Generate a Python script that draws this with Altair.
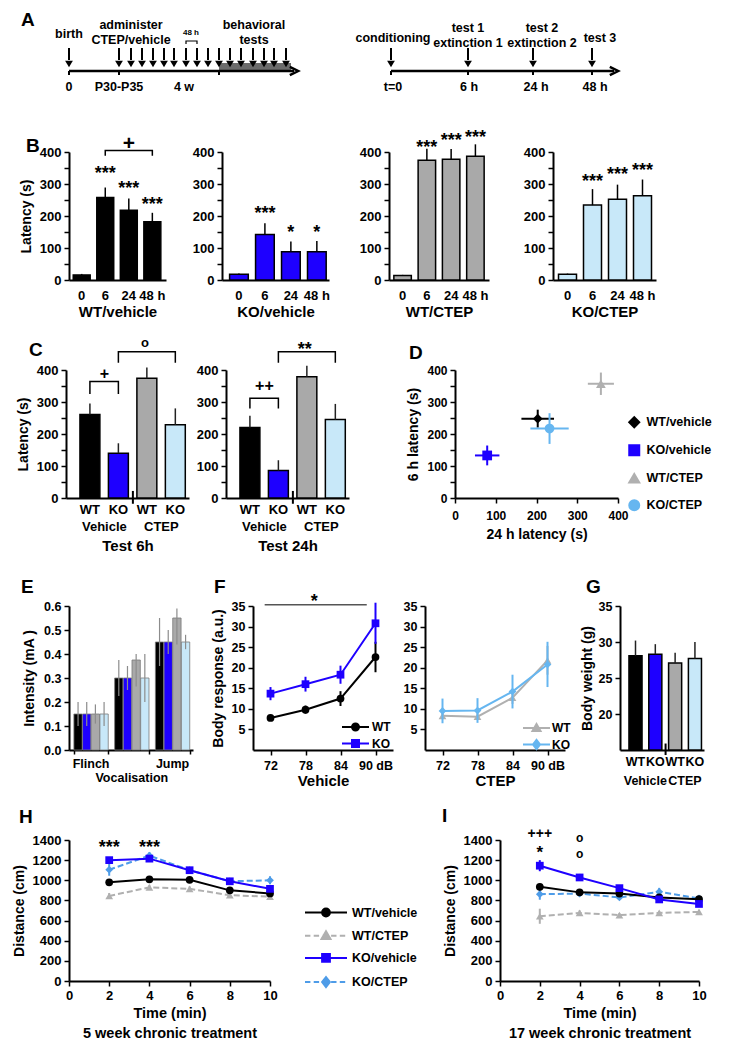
import altair as alt
import pandas as pd

FONT = "Liberation Sans"
BLACK = "#000000"
BLUE = "#1e00ff"
GREY_BAR = "#a9a9a9"
LBLUE_BAR = "#c8e8f9"
GREY_PT = "#b0b0b0"
LBLUE_PT = "#66b6f0"
LBLUE_LN = "#4e9ce8"

GROUPS = ["WT/vehicle", "KO/vehicle", "WT/CTEP", "KO/CTEP"]
GENOTYPE = ["WT", "KO", "WT", "KO"]
TREATMENT = ["Vehicle", "CTEP"]
BAR_COLORS = [BLACK, BLUE, GREY_BAR, LBLUE_BAR]

# ---------------- A : schematic timelines (arbitrary time units) ----------------
A1_events = [8, 58, 70, 81, 92, 103, 113, 125, 136, 147, 158, 169, 180, 192, 203, 213, 225]
A1_marks = [8, 58, 158]
A1_labels = ["birth", "administer", "CTEP/vehicle", "behavioral", "tests", "0", "P30-P35", "4 w"]
A1_label_t = [8, 70, 70, 193, 193, 8, 58, 123]
A1_label_row = [25, 16, 31, 16, 31, 78, 78, 78]
A2_events = [10, 87, 152, 211]
A2_labels = ["conditioning", "test 1", "extinction 1", "test 2", "extinction 2", "test 3",
             "t=0", "6 h", "24 h", "48 h"]
A2_label_t = [12, 87, 87, 161, 161, 219, 12, 88, 155, 214]
A2_label_row = [29, 19, 34, 19, 34, 29, 78, 78, 78, 78]

# ---------------- B ----------------
B_times = ["0", "6", "24", "48"]
B_mean = {"WT/vehicle": [16, 258, 218, 182], "KO/vehicle": [18, 142, 88, 88],
          "WT/CTEP": [14, 374, 377, 387], "KO/CTEP": [18, 234, 252, 263]}
B_upper = {"WT/vehicle": [19, 289, 255, 210], "KO/vehicle": [20, 177, 120, 122],
           "WT/CTEP": [16, 410, 409, 424], "KO/CTEP": [20, 284, 298, 314]}
B_stars = {"WT/vehicle": ["***", "***", "***"], "KO/vehicle": ["***", "*", "*"],
           "WT/CTEP": ["***", "***", "***"], "KO/CTEP": ["***", "***", "***"]}
B_star_y = {"WT/vehicle": [348, 299, 249], "KO/vehicle": [223, 161, 161],
            "WT/CTEP": [429, 450, 460], "KO/CTEP": [322, 343, 355]}

# ---------------- C ----------------
C6_mean = [261, 140, 374, 229]
C6_upper = [295, 171, 408, 280]
C24_mean = [220, 86, 379, 245]
C24_upper = [257, 118, 413, 294]

# ---------------- D ----------------
D_x = [203, 79, 358, 232]
D_xerr = [40, 30, 32, 47]
D_y = [248, 133, 357, 217]
D_yerr = [28, 31, 35, 48]

# ---------------- E ----------------
E_cats = ["Flinch", "Vocalisation", "Jump"]
E_mean = {"Flinch": [0.15, 0.15, 0.15, 0.15], "Vocalisation": [0.30, 0.30, 0.375, 0.30],
          "Jump": [0.45, 0.45, 0.55, 0.45]}
E_high = {"Flinch": [0.20, 0.20, 0.19, 0.20], "Vocalisation": [0.375, 0.35, 0.40, 0.40],
          "Jump": [0.55, 0.50, 0.59, 0.48]}
E_low = {"Flinch": [0.10, 0.10, 0.11, 0.10], "Vocalisation": [0.225, 0.25, 0.265, 0.20],
         "Jump": [0.35, 0.40, 0.44, 0.42]}

# ---------------- F ----------------
F_levels = [72, 78, 84, 90]
F_veh_WT = [7.8, 9.8, 12.5, 22.6]
F_veh_WT_err = [0.6, 1.0, 1.8, 3.7]
F_veh_KO = [13.7, 16.0, 18.3, 30.8]
F_veh_KO_err = [1.6, 1.8, 2.2, 5.0]
F_ctep_WT = [8.3, 8.1, 12.7, 21.8]
F_ctep_WT_err = [0.8, 0.8, 1.5, 3.5]
F_ctep_KO = [9.5, 9.6, 14.2, 20.8]
F_ctep_KO_err = [3.0, 3.0, 4.1, 5.5]

# ---------------- G ----------------
G_mean = [28.1, 28.3, 27.1, 27.7]
G_upper = [30.2, 29.7, 28.5, 30.0]

# ---------------- H / I ----------------
HI_times = [2, 4, 6, 8, 10]
HI_series = ["WT/vehicle", "WT/CTEP", "KO/vehicle", "KO/CTEP"]
H_vals = {"WT/vehicle": [980, 1010, 1005, 900, 870], "WT/CTEP": [844, 930, 915, 852, 837],
          "KO/vehicle": [1200, 1215, 1100, 990, 915], "KO/CTEP": [1105, 1245, 1100, 990, 1000]}
H_errs = {"WT/vehicle": [25, 25, 25, 20, 20], "WT/CTEP": [30, 25, 25, 20, 20],
          "KO/vehicle": [30, 30, 25, 25, 25], "KO/CTEP": [60, 35, 25, 30, 40]}
I_vals = {"WT/vehicle": [935, 880, 868, 830, 812], "WT/CTEP": [643, 676, 655, 676, 686],
          "KO/vehicle": [1145, 1028, 922, 810, 765], "KO/CTEP": [862, 868, 830, 885, 820]}
I_errs = {"WT/vehicle": [30, 20, 20, 20, 20], "WT/CTEP": [75, 25, 20, 20, 20],
          "KO/vehicle": [55, 35, 25, 25, 30], "KO/CTEP": [55, 30, 25, 40, 25]}

HI_color = {"WT/vehicle": BLACK, "WT/CTEP": GREY_PT, "KO/vehicle": BLUE, "KO/CTEP": LBLUE_LN}
HI_dash = {"WT/vehicle": None, "WT/CTEP": [6, 3], "KO/vehicle": None, "KO/CTEP": [6, 3]}
HI_shape = {"WT/vehicle": "circle", "WT/CTEP": "triangle-up", "KO/vehicle": "square", "KO/CTEP": "diamond"}
HI_marker = {"WT/vehicle": "circle", "WT/CTEP": "triangle", "KO/vehicle": "square", "KO/CTEP": "diamond"}


# ================= helpers =================
def T(d):
    return alt.Chart(pd.DataFrame(d))


def TXT(size, **kw):
    d = dict(font=FONT, fontWeight="bold", fontSize=size, color=BLACK)
    d.update(kw)
    return d


def spacer(w, h):
    return T({"s": [0]}).mark_point(opacity=0, size=1).encode(
        x=alt.value(w / 2), y=alt.value(h / 2)).properties(width=w, height=h)


def edge_spacer(w, h, top, bottom):
    # invisible markers fixing the vertical extent of a row
    return alt.layer(
        T({"s": [0]}).mark_point(opacity=0, size=1).encode(x=alt.value(0), y=alt.value(-top)),
        T({"s": [0]}).mark_point(opacity=0, size=1).encode(x=alt.value(0), y=alt.value(h + bottom)),
    ).properties(width=w, height=h)


def letter(ch, dx, dy):
    return T({"t": [ch]}).mark_text(**TXT(19, align="left", baseline="alphabetic")).encode(
        x=alt.value(dx), y=alt.value(dy), text="t:N")


def marker_path(kind, r):
    if kind == "circle":
        return f"M{-r},0A{r},{r},0,1,1,{r},0A{r},{r},0,1,1,{-r},0Z"
    if kind == "square":
        return f"M{-r},{-r}H{r}V{r}H{-r}Z"
    if kind == "triangle":
        return f"M0,{-r * 1.15}L{r * 1.15},{r * 0.85}H{-r * 1.15}Z"
    return f"M0,{-r * 1.3}L{r},0L0,{r * 1.3}L{-r},0Z"


def line_path(half, dashed):
    if not dashed:
        return f"M{-half},0H{half}"
    segs, x = [], -half
    while x < half:
        x2 = min(x + 0.9, half)
        segs.append(f"M{x:.2f},0H{x2:.2f}")
        x = x2 + 0.55
    return "".join(segs)


def legend_layer(labels, shapes, colors, lx, ly, size, offset, rowpad, fs=12.5):
    leg = alt.Legend(orient="none", legendX=lx, legendY=ly, title=None, symbolSize=size,
                     labelOffset=offset, rowPadding=rowpad, padding=0, symbolStrokeWidth=2,
                     labelFont=FONT, labelFontSize=fs, labelFontWeight="bold", labelColor=BLACK,
                     symbolOpacity=1)
    return T({"lab": labels}).transform_filter("false").mark_point().encode(
        shape=alt.Shape("lab:N", scale=alt.Scale(domain=labels, range=shapes), legend=leg),
        fill=alt.Fill("lab:N", scale=alt.Scale(domain=labels, range=colors), legend=leg),
        stroke=alt.Stroke("lab:N", scale=alt.Scale(domain=labels, range=colors), legend=leg),
    )


def yaxis(values, title=None, every=None, fmt=None, tpad=6, size=12.5):
    kw = dict(values=values, title=title, titlePadding=tpad, labelFontSize=size)
    if every:
        kw["labelExpr"] = f"datum.value % {every} == 0 ? datum.label : ''"
    if fmt:
        kw["format"] = fmt
    return alt.Axis(**kw)


def hrow(cells):
    return alt.hconcat(*cells, spacing=0, bounds="flush").resolve_scale(
        shape="independent", fill="independent", stroke="independent")


# ================= A =================
A_H = 100
LINE_Y, ARR_TOP, ARR_BOT, HEAD_Y, TICK_BOT = 62, 39, 51, 55, 66


def timeline(width, events, marks, line_x, labels, lab_x, lab_y, shade=None, extra=None):
    sx = alt.Scale(domain=[0, width], nice=False, zero=False)
    sy = alt.Scale(domain=[0, A_H], nice=False, zero=False, reverse=True)
    X = lambda f: alt.X(f, type="quantitative", scale=sx, axis=None)
    Y = lambda f: alt.Y(f, type="quantitative", scale=sy, axis=None)
    L = []
    if shade:
        L.append(T({"x": [shade[0]], "x2": [shade[1]], "y": [HEAD_Y - 1], "y2": [LINE_Y]})
                 .mark_rect(color="#6b6b6b").encode(x=X("x"), x2="x2", y=Y("y"), y2="y2"))
    L.append(T({"x": [line_x[0]], "x2": [line_x[1]], "y": [LINE_Y]})
             .mark_rule(color=BLACK, strokeWidth=2.5).encode(x=X("x"), x2="x2", y=Y("y")))
    L.append(T({"x": [line_x[1]], "y": [LINE_Y]})
             .mark_point(shape="M-1,-1L1,0L-1,1", size=70, stroke=BLACK, strokeWidth=2.5,
                         filled=False, opacity=1).encode(x=X("x"), y=Y("y")))
    n = len(events)
    L.append(T({"x": events, "y": [ARR_TOP] * n, "y2": [ARR_BOT] * n})
             .mark_rule(color=BLACK, strokeWidth=2).encode(x=X("x"), y=Y("y"), y2="y2"))
    L.append(T({"x": events, "y": [HEAD_Y] * n})
             .mark_point(shape="triangle-down", size=60, filled=True, color=BLACK, opacity=1)
             .encode(x=X("x"), y=Y("y")))
    m = len(marks)
    L.append(T({"x": marks, "y": [LINE_Y] * m, "y2": [TICK_BOT] * m})
             .mark_rule(color=BLACK, strokeWidth=2).encode(x=X("x"), y=Y("y"), y2="y2"))
    L.append(T({"x": lab_x, "y": lab_y, "t": labels})
             .mark_text(**TXT(12.5, baseline="middle")).encode(x=X("x"), y=Y("y"), text="t:N"))
    if extra:
        L.append(T({"x": [130], "y": [24], "t": ["48 h"]})
                 .mark_text(**TXT(8, baseline="middle")).encode(x=X("x"), y=Y("y"), text="t:N"))
        L.append(T({"x": [125, 125, 136, 136], "y": [35, 32, 32, 35], "o": [0, 1, 2, 3]})
                 .mark_line(color=BLACK, strokeWidth=1.2).encode(x=X("x"), y=Y("y"), order="o:Q"))
    return L


a1 = alt.layer(*timeline(240, A1_events, A1_marks, [8, 233], A1_labels, A1_label_t, A1_label_row,
                         shade=[158, 230], extra=True), letter("A", -40, 17)).properties(width=240, height=A_H)
a2 = alt.layer(*timeline(260, A2_events, A2_events, [10, 233], A2_labels, A2_label_t, A2_label_row)
               ).properties(width=260, height=A_H)
rowA = hrow([edge_spacer(52, A_H, 0, 0), a1, spacer(80, A_H), a2])

# ================= B =================
HB = 128
Y400 = list(range(0, 401, 50))


def b_panel(g, color, w, align, ytitle, bracket=False, let=None):
    d = pd.DataFrame({"t": B_times, "v": B_mean[g], "e": B_upper[g]})
    sc_x = alt.Scale(domain=B_times, paddingInner=0.28, paddingOuter=0.2, align=align)
    X = alt.X("t:N", sort=B_times, scale=sc_x,
              axis=alt.Axis(title=g, ticks=False, labelAngle=0, labelPadding=9, labelFontSize=13,
                            titleFontSize=15, titlePadding=2,
                            labelExpr="datum.value == '48' ? '48 h' : datum.value"))
    Y = alt.Y("v:Q", scale=alt.Scale(domain=[0, 400], nice=False),
              axis=yaxis(Y400, "Latency (s)" if ytitle else None, 100, size=13))
    L = [alt.Chart(d).mark_bar(color=color, stroke=BLACK, strokeWidth=1.5).encode(x=X, y=Y),
         alt.Chart(d).mark_rule(color=BLACK, strokeWidth=1.5).encode(x=X, y=Y, y2="e:Q")]
    s = pd.DataFrame({"t": B_times[1:], "v": B_star_y[g], "s": B_stars[g]})
    L.append(alt.Chart(s).mark_text(**TXT(18, baseline="middle", dy=5)).encode(x=X, y=Y, text="s:N"))
    if bracket:
        bd = pd.DataFrame({"t": ["6", "6", "48", "48"], "v": [388, 405, 405, 388], "o": [0, 1, 2, 3]})
        L.append(alt.Chart(bd).mark_line(color=BLACK, strokeWidth=1.5).encode(x=X, y=Y, order="o:Q"))
        L.append(T({"t": ["24"], "v": [426], "s": ["+"]}).mark_text(**TXT(21, baseline="middle"))
                 .encode(x=X, y=Y, text="s:N"))
    if let:
        L.append(letter(*let))
    return alt.layer(*L).properties(width=w, height=HB)


rowB = hrow([edge_spacer(60, HB, 41, 50),
             b_panel("WT/vehicle", BLACK, 97, 0.45, True, bracket=True, let=("B", -43, 0)),
             spacer(56, HB), b_panel("KO/vehicle", BLUE, 107, 0.73, False),
             spacer(60, HB), b_panel("WT/CTEP", GREY_BAR, 100, 0.5, False),
             spacer(64, HB), b_panel("KO/CTEP", LBLUE_BAR, 103, 0.55, False)])

# ================= C =================
HC = 128
COLOR = alt.Color("g:N", scale=alt.Scale(domain=GROUPS, range=BAR_COLORS), legend=None)


def c_panel(means, uppers, title, ytitle, brackets, notes, let=None):
    d = pd.DataFrame({"g": GROUPS, "v": means, "e": uppers, "lab": GENOTYPE})
    sc_x = alt.Scale(domain=GROUPS, paddingInner=0.3, paddingOuter=0.31, align=0.79)
    ax = alt.Axis(title=title, labels=False, ticks=False, titlePadding=40, titleFontSize=15)
    X = alt.X("g:N", sort=GROUPS, scale=sc_x, axis=ax)
    Y = alt.Y("v:Q", scale=alt.Scale(domain=[0, 400], nice=False),
              axis=yaxis(Y400, "Latency (s)" if ytitle else None, 100, size=13))
    L = [alt.Chart(d).mark_bar(stroke=BLACK, strokeWidth=1.5).encode(x=X, y=Y, color=COLOR),
         alt.Chart(d).mark_rule(color="#222222", strokeWidth=1.5).encode(x=X, y=Y, y2="e:Q"),
         T({"g": ["WT/CTEP"], "v": [-18], "e": [22]}).mark_rule(color=BLACK, strokeWidth=2, xOffset=-4)
         .encode(x=alt.X("g:N", sort=GROUPS, scale=sc_x, axis=ax, bandPosition=0), y=Y, y2="e:Q"),
         alt.Chart(d).mark_text(**TXT(13, baseline="middle")).encode(x=X, y=alt.value(HC + 12), text="lab:N"),
         T({"g": ["KO/vehicle", "KO/CTEP"], "lab": TREATMENT}).mark_text(**TXT(13, baseline="middle", dx=-14))
         .encode(x=X, y=alt.value(HC + 29), text="lab:N")]
    bd = pd.DataFrame(brackets)
    L.append(alt.Chart(bd).mark_line(color=BLACK, strokeWidth=1.5).encode(x=X, y=Y, order="o:Q", detail="b:N"))
    for g, v, s, fs, dx, dy in notes:
        L.append(T({"g": [g], "v": [v], "s": [s]}).mark_text(**TXT(fs, baseline="middle", dx=dx, dy=dy))
                 .encode(x=X, y=Y, text="s:N"))
    if let:
        L.append(letter(*let))
    return alt.layer(*L).properties(width=123, height=HC)


c1 = c_panel(C6_mean, C6_upper, "Test 6h", True,
             {"g": ["WT/vehicle", "WT/vehicle", "KO/vehicle", "KO/vehicle",
                    "KO/vehicle", "KO/vehicle", "KO/CTEP", "KO/CTEP"],
              "v": [325, 364, 364, 325, 423, 457, 457, 423], "o": [0, 1, 2, 3, 0, 1, 2, 3],
              "b": ["a"] * 4 + ["b"] * 4},
             [("KO/vehicle", 386, "+", 16, -14, 0), ("WT/CTEP", 485, "o", 13, -2, 0)],
             let=("C", -37, -14))
c2 = c_panel(C24_mean, C24_upper, "Test 24h", False,
             {"g": ["WT/vehicle", "WT/vehicle", "KO/vehicle", "KO/vehicle",
                    "KO/vehicle", "KO/vehicle", "KO/CTEP", "KO/CTEP"],
              "v": [280, 312, 312, 280, 423, 457, 457, 423], "o": [0, 1, 2, 3, 0, 1, 2, 3],
              "b": ["a"] * 4 + ["b"] * 4},
             [("KO/vehicle", 349, "++", 16, -14, 0), ("WT/CTEP", 478, "**", 18, -2, 5)])

# ================= D =================
dd = pd.DataFrame({"g": GROUPS, "x": D_x, "y": D_y})
dd["xlo"] = dd["x"] - pd.Series(D_xerr)
dd["xhi"] = dd["x"] + pd.Series(D_xerr)
dd["ylo"] = dd["y"] - pd.Series(D_yerr)
dd["yhi"] = dd["y"] + pd.Series(D_yerr)
D_colors = [BLACK, BLUE, GREY_PT, LBLUE_PT]
D_shapes = ["diamond", "square", "triangle-up", "circle"]
D_sx = alt.Scale(domain=[0, 400], nice=False)
D_sy = alt.Scale(domain=[0, 400], nice=False)
D_ax = alt.Axis(values=[0, 100, 200, 300, 400], title="24 h latency (s)", titleFontSize=14,
                labelFontSize=12, labelPadding=7, titlePadding=6)
D_ay = yaxis(Y400, "6 h  latency (s)", 100, size=12, tpad=6)
DX = alt.X("x:Q", scale=D_sx, axis=D_ax)
DY = alt.Y("y:Q", scale=D_sy, axis=D_ay)
d_layers = []
for i, g in enumerate(GROUPS):
    sub = dd[dd.g == g]
    c = D_colors[i]
    d_layers.append(alt.Chart(sub).mark_rule(color=c, strokeWidth=2).encode(
        x=alt.X("xlo:Q", scale=D_sx, axis=D_ax), x2="xhi:Q", y=DY))
    d_layers.append(alt.Chart(sub).mark_rule(color=c, strokeWidth=2).encode(
        x=DX, y=alt.Y("ylo:Q", scale=D_sy, axis=D_ay), y2="yhi:Q"))
    d_layers.append(alt.Chart(sub).mark_point(shape=D_shapes[i], size=95, filled=True, color=c, opacity=1)
                    .encode(x=DX, y=DY))
d_layers.append(legend_layer(GROUPS, D_shapes, D_colors, 173, 46, 100, 6, 9))
d_layers.append(letter("D", -46, -11))
dpanel = alt.layer(*d_layers).properties(width=163, height=HC)

rowCD = hrow([edge_spacer(57, HC, 38, 60), c1, spacer(37, HC), c2, spacer(106, HC), dpanel])

# ================= E =================
HE = 144
e_rows = []
for c in E_cats:
    for i, g in enumerate(GROUPS):
        e_rows.append({"c": c, "g": g, "v": E_mean[c][i], "lo": E_low[c][i], "hi": E_high[c][i]})
ed = pd.DataFrame(e_rows)
esx = alt.Scale(domain=E_cats, paddingInner=0.157, paddingOuter=0.1, align=0.6)
EX = alt.X("c:N", sort=E_cats, scale=esx,
           axis=alt.Axis(title=None, labels=False, ticks=True, tickBand="extent", tickSize=4))
EXO = alt.XOffset("g:N", sort=GROUPS, scale=alt.Scale(domain=GROUPS, paddingInner=0.04, paddingOuter=0))
E_sy = alt.Scale(domain=[0, 0.6], nice=False)
E_ay = yaxis([0, 0.1, 0.2, 0.3, 0.4, 0.5, 0.6], "Intensity (mA )", fmt=".1f", size=12.5, tpad=7)
EY = alt.Y("v:Q", scale=E_sy, axis=E_ay)
epanel = alt.layer(
    alt.Chart(ed).mark_bar(stroke="#7a7a7a", strokeWidth=0.8).encode(x=EX, xOffset=EXO, y=EY, color=COLOR),
    alt.Chart(ed).mark_rule(color="#8c8c8c", strokeWidth=1.2).encode(
        x=EX, xOffset=EXO, y=alt.Y("lo:Q", scale=E_sy, axis=E_ay), y2="hi:Q"),
    T({"c": ["Flinch", "Jump"]}).mark_text(**TXT(12.5, baseline="middle")).encode(
        x=EX, y=alt.value(HE + 14), text="c:N"),
    T({"c": ["Vocalisation"]}).mark_text(**TXT(12.5, baseline="middle")).encode(
        x=EX, y=alt.value(HE + 28), text="c:N"),
    letter("E", -48, -13),
).properties(width=124, height=HE)

# ================= F =================
HF = 144


def f_panel(series, title, ytitle, lx, ly, loff, half, sig=False, let=None):
    sx = alt.Scale(domain=[69, 93], nice=False, zero=False)
    sy = alt.Scale(domain=[0, 35], nice=False)
    ay = yaxis([5, 10, 15, 20, 25, 30, 35], ytitle, size=12.5, tpad=6)
    X = alt.X("db:Q", scale=sx,
              axis=alt.Axis(values=F_levels, title=title, titleFontSize=15, titlePadding=2, labelPadding=4,
                            labelFontSize=12.5, labelExpr="datum.value == 90 ? '90 dB' : datum.label"))
    Y = alt.Y("v:Q", scale=sy, axis=ay)
    L = []
    labs, shapes, cols = [], [], []
    for lab, vals, errs, col, shp, mk in series:
        d = pd.DataFrame({"db": F_levels, "v": vals, "e": errs})
        d["lo"] = d["v"] - d["e"]
        d["hi"] = d["v"] + d["e"]
        L.append(alt.Chart(d).mark_rule(color=col, strokeWidth=2).encode(
            x=X, y=alt.Y("lo:Q", scale=sy, axis=ay), y2="hi:Q"))
        L.append(alt.Chart(d).mark_line(color=col, strokeWidth=2).encode(x=X, y=Y))
        L.append(alt.Chart(d).mark_point(shape=shp, size=60, filled=True, color=col, opacity=1).encode(x=X, y=Y))
        labs.append(lab)
        shapes.append(line_path(half, False) + marker_path(mk, 0.7))
        cols.append(col)
    L.append(legend_layer(labs, shapes, cols, lx, ly, 100, loff, 0.5, fs=12))
    if sig:
        L.append(T({"db": [71], "d2": [88.5], "v": [35.3]}).mark_rule(color="#555555", strokeWidth=1.5)
                 .encode(x=X, x2="d2:Q", y=Y))
        L.append(T({"db": [79.5], "v": [37.2], "s": ["*"]}).mark_text(**TXT(18, baseline="middle", dy=5))
                 .encode(x=X, y=Y, text="s:N"))
    if let:
        L.append(letter(*let))
    return alt.layer(*L).properties(width=140, height=HF)


f1 = f_panel([("WT", F_veh_WT, F_veh_WT_err, BLACK, "circle", "circle"),
              ("KO", F_veh_KO, F_veh_KO_err, BLUE, "square", "square")],
             "Vehicle", "Body response (a.u.)", 96.5, 115, 10.5, 2.7, sig=True, let=("F", -39, -13))
f2 = f_panel([("WT", F_ctep_WT, F_ctep_WT_err, GREY_PT, "triangle-up", "triangle"),
              ("KO", F_ctep_KO, F_ctep_KO_err, LBLUE_PT, "diamond", "diamond")],
             "CTEP", None, 105.5, 116, 9.5, 2.7)

# ================= G =================
HG = 144
gd = pd.DataFrame({"g": GROUPS, "v": G_mean, "e": G_upper, "lab": GENOTYPE})
gsx = alt.Scale(domain=GROUPS, paddingInner=0.34, paddingOuter=0.29, align=0.78)
gax = alt.Axis(title=None, labels=False, ticks=False)
GX = alt.X("g:N", sort=GROUPS, scale=gsx, axis=gax)
GY = alt.Y("v:Q", scale=alt.Scale(domain=[15, 35], nice=False, zero=False),
           axis=yaxis([20, 25, 30, 35], "Body weight (g)", size=12.5, tpad=4))
gpanel = alt.layer(
    alt.Chart(gd).mark_bar(stroke=BLACK, strokeWidth=1.5).encode(x=GX, y=GY, y2=alt.datum(15), color=COLOR),
    alt.Chart(gd).mark_rule(color="#222222", strokeWidth=1.5).encode(x=GX, y=GY, y2="e:Q"),
    T({"g": ["WT/CTEP"], "v": [14.3], "e": [15.9]}).mark_rule(color=BLACK, strokeWidth=2, xOffset=-3)
    .encode(x=alt.X("g:N", sort=GROUPS, scale=gsx, axis=gax, bandPosition=0), y=GY, y2="e:Q"),
    alt.Chart(gd).mark_text(**TXT(12.5, baseline="middle")).encode(x=GX, y=alt.value(HG + 12), text="lab:N"),
    T({"g": ["KO/vehicle", "KO/CTEP"], "lab": TREATMENT}).mark_text(**TXT(12.5, baseline="middle", dx=-10))
    .encode(x=GX, y=alt.value(HG + 31), text="lab:N"),
    letter("G", -34, -13),
).properties(width=84, height=HG)

rowEFG = hrow([edge_spacer(60, HE, 46, 50), epanel, spacer(60, HE), f1, spacer(32, HE), f2,
               spacer(55, HE), gpanel])

# ================= H / I =================
HH = 141


def hi_panel(vals, errs, subtitle, notes, w, legend=False, let=None):
    sx = alt.Scale(domain=[0, 10], nice=False)
    sy = alt.Scale(domain=[0, 1400], nice=False)
    ay = yaxis(list(range(0, 1401, 200)), "Distance  (cm)", fmt="d", size=13, tpad=6)
    X = alt.X("t:Q", scale=sx,
              axis=alt.Axis(values=[0, 2, 4, 6, 8, 10], title=["Time (min)", subtitle], titleFontSize=14.5,
                            titleLineHeight=20, titlePadding=4, labelFontSize=13, labelPadding=3))
    Y = alt.Y("v:Q", scale=sy, axis=ay)
    L = []
    for s in ["WT/CTEP", "KO/CTEP", "WT/vehicle", "KO/vehicle"]:
        d = pd.DataFrame({"t": HI_times, "v": vals[s], "e": errs[s]})
        d["lo"] = d["v"] - d["e"]
        d["hi"] = d["v"] + d["e"]
        col = HI_color[s]
        L.append(alt.Chart(d).mark_rule(color=col, strokeWidth=2).encode(
            x=X, y=alt.Y("lo:Q", scale=sy, axis=ay), y2="hi:Q"))
        lk = dict(color=col, strokeWidth=2)
        if HI_dash[s]:
            lk["strokeDash"] = HI_dash[s]
        L.append(alt.Chart(d).mark_line(**lk).encode(x=X, y=Y))
        L.append(alt.Chart(d).mark_point(shape=HI_shape[s], size=60, filled=True, color=col, opacity=1)
                 .encode(x=X, y=Y))
    for t, v, s, fs, dy in notes:
        L.append(T({"t": [t], "v": [v], "s": [s]}).mark_text(**TXT(fs, baseline="middle", dy=dy))
                 .encode(x=X, y=Y, text="s:N"))
    if legend:
        paths = [line_path(3.5, HI_dash[s] is not None) + marker_path(HI_marker[s], 0.65) for s in HI_series]
        L.append(legend_layer(HI_series, paths, [HI_color[s] for s in HI_series], 250, 65.5, 144, 19, 6.2))
    if let:
        L.append(letter(*let))
    return alt.layer(*L).properties(width=w, height=HH)


hpanel = hi_panel(H_vals, H_errs, "5 week chronic treatment",
                  [(2, 1373, "***", 18, 5), (4, 1373, "***", 18, 5)], 201, legend=True, let=("H", -50, -17))
ipanel = hi_panel(I_vals, I_errs, "17 week chronic treatment",
                  [(2, 1455, "+++", 14, 0), (2, 1325, "*", 17, 5), (4, 1420, "o", 12, 0), (4, 1265, "o", 12, 0)],
                  199, let=("I", -58, -18))
rowHI = hrow([edge_spacer(60, HH, 38, 70), hpanel, spacer(230, HH), ipanel])

chart = alt.vconcat(rowA, rowB, rowCD, rowEFG, rowHI, spacing=0).resolve_scale(
    shape="independent", fill="independent", stroke="independent").properties(
    padding={"left": 0, "top": 0, "right": 5, "bottom": 5}
).configure_view(stroke=None).configure_axis(
    labelFont=FONT, labelFontWeight="bold", labelColor=BLACK, labelFontSize=12.5,
    titleFont=FONT, titleFontWeight="bold", titleColor=BLACK, titleFontSize=14,
    domainColor=BLACK, domainWidth=2, tickColor=BLACK, tickWidth=1.5, tickSize=5, grid=False,
    labelPadding=3, labelOverlap=False, labelFlush=False
)

chart.save("out.html", embed_options={"renderer": "svg", "actions": False})
